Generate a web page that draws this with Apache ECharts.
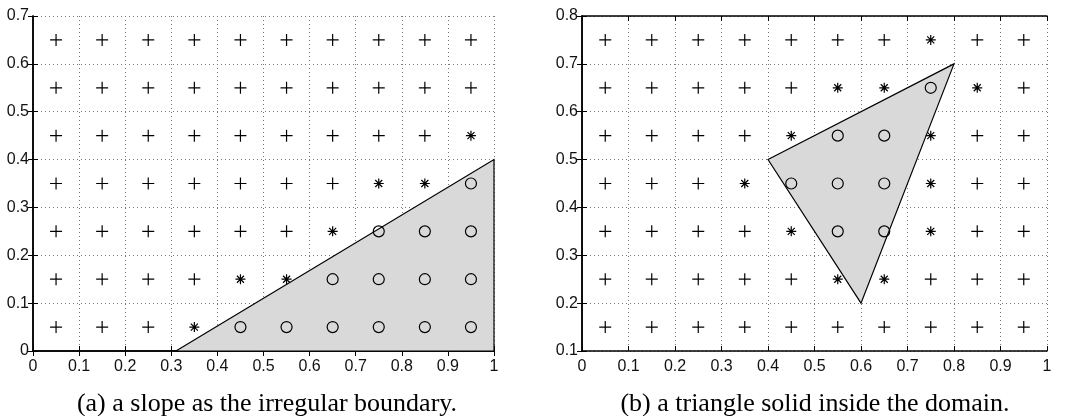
<!DOCTYPE html>
<html>
<head>
<meta charset="utf-8">
<script src="https://cdn.jsdelivr.net/npm/echarts@6/dist/echarts.min.js"></script>
<style>
  html, body { margin: 0; padding: 0; background: #fff; }
  #chart { width: 1066px; height: 416px; }
</style>
</head>
<body>
<div id="chart"></div>
<script>
// grid point centres shared by both panels
const xCenters = [0.05, 0.15, 0.25, 0.35, 0.45, 0.55, 0.65, 0.75, 0.85, 0.95]

// panel (a): rows top to bottom, '+' fluid, '*' boundary, 'o' solid
const rowsA = [0.65, 0.55, 0.45, 0.35, 0.25, 0.15, 0.05]
const codesA = [
  '++++++++++',
  '++++++++++',
  '+++++++++*',
  '+++++++**o',
  '++++++*ooo',
  '++++**oooo',
  '+++*oooooo',
]
const polyA = [[0.31, 0], [1, 0.4], [1, 0]]

// panel (b)
const rowsB = [0.75, 0.65, 0.55, 0.45, 0.35, 0.25, 0.15]
const codesB = [
  '+++++++*++',
  '+++++**o*+',
  '++++*oo*++',
  '+++*ooo*++',
  '++++*oo*++',
  '+++++**+++',
  '++++++++++',
]
const polyB = [[0.4, 0.5], [0.8, 0.7], [0.6, 0.2]]

const xTicks = [0, 1, 0.1]
const yRangeA = [0, 0.7]
const yRangeB = [0.1, 0.8]

const captions = [
  '(a) a slope as the irregular boundary.',
  '(b) a triangle solid inside the domain.',
]

const SANS = "'Liberation Sans', Arial, sans-serif"
const SERIF = "'Liberation Serif', 'DejaVu Serif', serif"

const PLUS = 'path://M0,5L10,5M5,0L5,10'
const STAR = 'path://M0,5L10,5M5,0L5,10M1.5,1.5L8.5,8.5M1.5,8.5L8.5,1.5'

function pointsOf(rows, codes, ch) {
  const out = []
  codes.forEach((line, r) => {
    for (let c = 0; c < line.length; c++) {
      if (line[c] === ch) out.push([xCenters[c], rows[r]])
    }
  })
  return out
}

const grids = [
  { left: 33, right: 572, top: 16, bottom: 65 },
  { left: 582, right: 19, top: 16, bottom: 65 },
]

const fmt = v => String(Math.round(v * 10) / 10)
const AXIS_LINE = { show: true, lineStyle: { color: '#000', width: 1.5 } }
const TICK = { show: true, inside: true, length: 5, lineStyle: { color: '#000' } }
const DOTS = { show: true, lineStyle: { color: '#777', type: [1, 3], width: 1 } }

const xAxes = []
const yAxes = []
grids.forEach((g, i) => {
  const yr = i === 0 ? yRangeA : yRangeB
  xAxes.push({
    type: 'value', gridIndex: i, min: xTicks[0], max: xTicks[1], interval: xTicks[2],
    position: 'bottom', axisLine: AXIS_LINE, axisTick: TICK, splitLine: DOTS,
    axisLabel: { color: '#111', fontFamily: SANS, fontSize: 16, margin: 8, formatter: fmt },
  })
  xAxes.push({
    type: 'value', gridIndex: i, min: xTicks[0], max: xTicks[1], interval: xTicks[2],
    position: 'top', axisLine: AXIS_LINE, axisTick: TICK,
    axisLabel: { show: false }, splitLine: { show: false },
  })
  yAxes.push({
    type: 'value', gridIndex: i, min: yr[0], max: yr[1], interval: 0.1,
    position: 'left', axisLine: AXIS_LINE, axisTick: TICK, splitLine: DOTS,
    axisLabel: { color: '#111', fontFamily: SANS, fontSize: 16, margin: 4, formatter: fmt },
  })
  yAxes.push({
    type: 'value', gridIndex: i, min: yr[0], max: yr[1], interval: 0.1,
    position: 'right', axisLine: AXIS_LINE, axisTick: TICK,
    axisLabel: { show: false }, splitLine: { show: false },
  })
})

function polySeries(poly, i) {
  return {
    type: 'custom', xAxisIndex: i * 2, yAxisIndex: i * 2, z: 2,
    data: [poly[0]],
    renderItem: (params, api) => ({
      type: 'polygon',
      shape: { points: poly.map(p => api.coord(p)) },
      style: { fill: '#d9d9d9', stroke: '#000', lineWidth: 1.2 },
    }),
  }
}

function markSeries(data, symbol, size, i) {
  return {
    type: 'scatter', xAxisIndex: i * 2, yAxisIndex: i * 2, z: 3,
    data, symbol, symbolSize: size, silent: true,
    itemStyle: { color: 'rgba(0,0,0,0)', borderColor: '#000', borderWidth: 1.2, opacity: 1 },
  }
}

const series = []
;[[rowsA, codesA, polyA], [rowsB, codesB, polyB]].forEach(([rows, codes, poly], i) => {
  series.push(polySeries(poly, i))
  series.push(markSeries(pointsOf(rows, codes, '+'), PLUS, 12, i))
  series.push(markSeries(pointsOf(rows, codes, '*'), STAR, 10, i))
  series.push(markSeries(pointsOf(rows, codes, 'o'), 'circle', 11, i))
})

const chart = echarts.init(document.getElementById('chart'))
chart.setOption({
  animation: false,
  grid: grids,
  xAxis: xAxes,
  yAxis: yAxes,
  series,
  graphic: captions.map((t, i) => ({
    type: 'text',
    x: i === 0 ? 267 : 815,
    y: 404,
    style: {
      text: t, textAlign: 'center', textVerticalAlign: 'middle',
      fontFamily: SERIF, fontSize: 26, fill: '#000',
    },
  })),
})
</script>
</body>
</html>
